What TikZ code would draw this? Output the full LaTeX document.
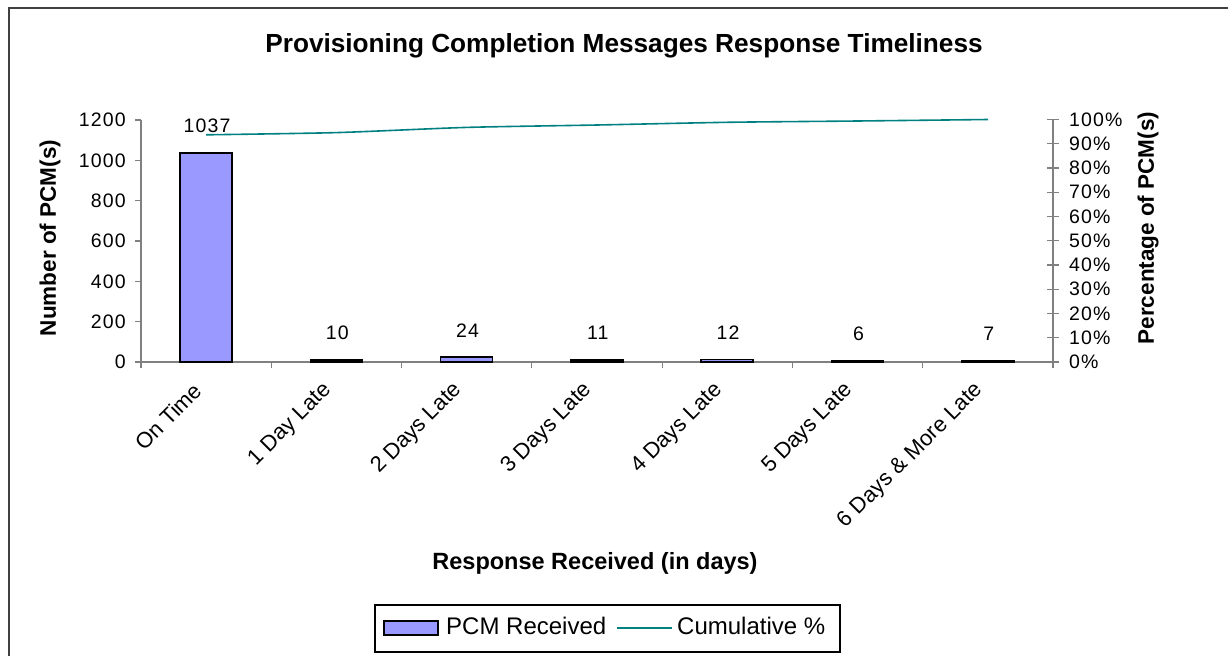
\documentclass[tikz,border=0pt]{standalone}
\usepackage{fontspec}
\setmainfont{Liberation Sans}
\newfontfamily\widesf{Liberation Sans}[LetterSpace=6]
\definecolor{pcmblue}{HTML}{9999FF}
\definecolor{cumteal}{HTML}{008080}
\definecolor{framegray}{HTML}{404040}
\definecolor{axisgray}{HTML}{808080}
\begin{document}
\begin{tikzpicture}[x=1pt,y=-1pt,
  ticklabel/.style={font=\widesf\fontsize{19.5}{22}\selectfont, inner sep=0pt},
  catlabel/.style={font=\fontsize{22}{26}\selectfont, inner sep=0pt, rotate=45, anchor=east},
  axistitle/.style={font=\bfseries\fontsize{22.5}{26}\selectfont, inner sep=0pt},
  pcmbar/.style={draw=black, line width=1.6pt, fill=pcmblue},
  axisline/.style={draw=axisgray, line width=1.2pt}]
\useasboundingbox (0,0) rectangle (1228,656);
\draw[framegray, line width=2pt] (8.5,656) -- (8.5,7.5) -- (1228,7.5);
\node[anchor=base, font=\bfseries\fontsize{26.2}{30}\selectfont, inner sep=0pt] (title) at (624,52) {Provisioning Completion Messages Response Timeliness};
\draw[axisline] (141,120) -- (141,362) -- (1053,362) -- (1053,119.5);
\foreach \v [count=\k from 0] in {0,200,...,1200}{
\draw[axisline] (135,{362-\k*40.33}) -- (141,{362-\k*40.33});
\node[ticklabel, anchor=east] (yl\k) at (126,{362-\k*40.33}) {\v};
}
\foreach \p [count=\k from 0] in {0,10,...,100}{
\draw[axisline] (1047,{362-\k*24.25}) -- (1059,{362-\k*24.25});
\node[ticklabel, anchor=west] (yr\k) at (1069,{362-\k*24.25}) {\p\%};
}
\foreach \k in {0,...,7}
\draw[axisline] ({141+\k*130.29},362) -- ({141+\k*130.29},368);
\foreach \v/\lab [count=\i from 0] in {1037/On Time, 10/1 Day Late, 24/2 Days Late, 11/3 Days Late, 12/4 Days Late, 6/5 Days Late, 7/6 Days \& More Late}{
\draw[pcmbar] ({180.1+\i*130.29},362) rectangle ({232.1+\i*130.29},{362-\v*0.2017});
\node[ticklabel, anchor=base] (val\i) at ({207+\i*130.29},{342-\v*0.2017}) {\v};
\node[catlabel] (cat\i) at ({198+\i*130.29},387) {\lab};
}
\draw[cumteal, line width=1.6pt] plot[smooth, tension=0.4] coordinates {(206.1,134.8) (336.4,132.6) (466.7,127.4) (597.0,125.0) (727.3,122.3) (857.6,121.0) (988.0,119.5)};
\node[axistitle, rotate=90] (ytitle) at (50,238) {Number of PCM(s)};
\node[axistitle, rotate=90] (y2title) at (1148,228) {Percentage of PCM(s)};
\node[axistitle, font=\bfseries\fontsize{23.5}{27}\selectfont] (xtitle) at (595,563) {Response Received (in days)};
\node[draw=black, line width=1.2pt, minimum width=465, minimum height=47, inner sep=0pt] (legend) at (607.5,628.5) {};
\draw[pcmbar, line width=1.3pt] (384,621) rectangle (438,635);
\node[anchor=west, font=\fontsize{24}{28}\selectfont, inner sep=0pt] (legpcm) at (446,625.5) {PCM Received};
\draw[cumteal, line width=1.6pt] (617,628) -- (672,628);
\node[anchor=west, font=\fontsize{24}{28}\selectfont, inner sep=0pt] (legcum) at (677,625.5) {Cumulative \%};
\end{tikzpicture}
\end{document}
